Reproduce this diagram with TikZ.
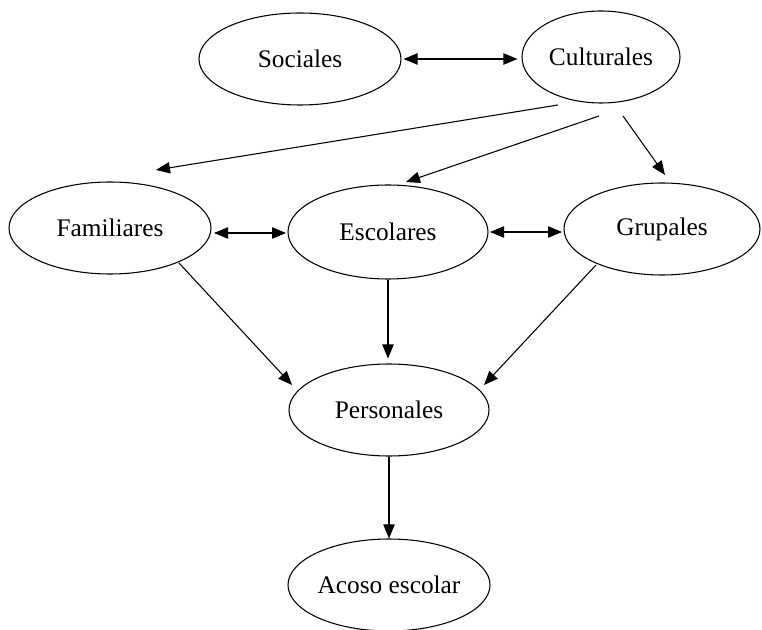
\documentclass[tikz,border=0pt]{standalone}
\usepackage{fontspec}
\setmainfont{Liberation Serif}
\usetikzlibrary{shapes.geometric,arrows.meta,calc}
\begin{document}
\begin{tikzpicture}[x=0.75pt,y=-0.75pt,
  ell/.style={draw,ellipse,line width=0.8pt,inner sep=0pt,
    font=\fontsize{19}{22}\selectfont},
  edge/.style={line width=0.8pt,-{Triangle[length=10.5pt,width=8.5pt]}},
  bedge/.style={line width=0.8pt,{Triangle[length=10.5pt,width=8.5pt]}-{Triangle[length=10.5pt,width=8.5pt]}}]
\useasboundingbox (0,0) rectangle (762,630);
\node[ell,minimum width=202pt*0.75,minimum height=92pt*0.75] (soc) at (300,59) {Sociales};
\node[ell,minimum width=158pt*0.75,minimum height=92pt*0.75] (cult) at (601,57) {Culturales};
\node[ell,minimum width=202pt*0.75,minimum height=92pt*0.75] (fam) at (110,228) {Familiares};
\node[ell,minimum width=200pt*0.75,minimum height=94pt*0.75] (esc) at (388,232) {Escolares};
\node[ell,minimum width=196pt*0.75,minimum height=92pt*0.75] (grp) at (662,229) {Grupales};
\node[ell,minimum width=200pt*0.75,minimum height=92pt*0.75] (per) at (389,410) {Personales};
\node[ell,minimum width=202pt*0.75,minimum height=92pt*0.75] (aco) at (389,585) {Acoso escolar};

\draw[bedge] ($(soc.east)+(2,0)$) -- ($(soc.east -| cult.west)+(-4,0)$);
\draw[edge] ($(cult)+(-43,48)$) -- ($(fam)+(46,-58)$);
\draw[edge] ($(cult)+(-2,59)$) -- ($(esc)+(18,-50)$);
\draw[edge] ($(cult)+(22,59)$) -- ($(grp)+(3,-54)$);
\draw[bedge] ($(fam)+(104,5)$) -- ($(esc)+(-102,1)$);
\draw[bedge] ($(esc)+(102,0)$) -- ($(grp)+(-100,3)$);
\draw[edge] ($(fam)+(69,35)$) -- ($(per)+(-97,-25)$);
\draw[edge,shorten >=3.75pt] (esc.south) -- (esc.south |- per.north);
\draw[edge] ($(grp)+(-66,36)$) -- ($(per)+(95,-25)$);
\draw[edge] (per.south) -- (per.south |- aco.north);
\end{tikzpicture}
\end{document}
